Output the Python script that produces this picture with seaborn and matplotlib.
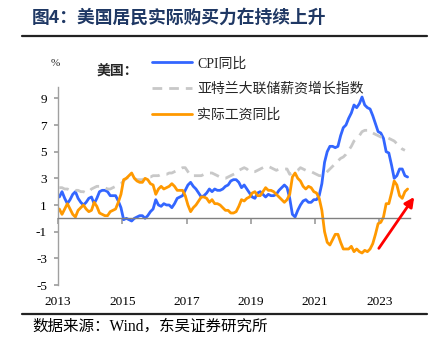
import numpy as np
import pandas as pd
import matplotlib
matplotlib.use("Agg")
import matplotlib.pyplot as plt
from matplotlib.lines import Line2D
import seaborn as sns

years = list(range(2013, 2024))
cpi = [
    1.6, 2.0, 1.5, 1.1, 1.4, 1.8, 2.0, 1.5, 1.2, 1.0, 1.2, 1.5,
    1.6, 1.1, 1.5, 2.0, 2.1, 2.1, 2.0, 1.7, 1.7, 1.7, 1.3, 0.8,
    -0.1, 0.0, -0.1, -0.2, 0.0, 0.1, 0.2, 0.2, 0.0, 0.2, 0.5, 0.7,
    1.4, 1.0, 0.9, 1.1, 1.0, 1.0, 0.8, 1.1, 1.5, 1.6, 1.7, 2.1,
    2.5, 2.7, 2.4, 2.2, 1.9, 1.6, 1.7, 1.9, 2.2, 2.0, 2.2, 2.1,
    2.1, 2.2, 2.4, 2.5, 2.8, 2.9, 2.9, 2.7, 2.3, 2.5, 2.2, 1.9,
    1.6, 1.5, 1.9, 2.0, 1.8, 1.6, 1.8, 1.7, 1.7, 1.8, 2.1, 2.3,
    2.5, 2.3, 1.5, 0.3, 0.1, 0.6, 1.0, 1.3, 1.4, 1.2, 1.2, 1.4,
    1.4, 1.7, 2.6, 4.2, 5.0, 5.4, 5.4, 5.3, 5.4, 6.2, 6.8, 7.0,
    7.5, 7.9, 8.5, 8.3, 8.6, 9.1, 8.5, 8.3, 8.2, 7.7, 7.1, 6.5,
    6.4, 6.0, 5.0, 4.9, 4.0, 3.0, 3.2, 3.7, 3.7, 3.2, 3.1,
]
wage = [
    2.3, 2.3, 2.2, 2.2, 2.1, 2.1, 2.1, 2.1, 2.0, 2.0, 1.9, 2.0,
    2.2, 2.3, 2.4, 2.4, 2.4, 2.3, 2.2, 2.2, 2.3, 2.4, 2.5, 2.6,
    2.8, 3.0, 3.1, 3.1, 3.0, 2.9, 2.9, 2.9, 3.0, 3.1, 3.1, 3.2,
    3.2, 3.2, 3.3, 3.3, 3.3, 3.4, 3.4, 3.5, 3.6, 3.7, 3.8, 3.8,
    3.5, 3.2, 3.2, 3.2, 3.2, 3.2, 3.3, 3.4, 3.4, 3.4, 3.3, 3.2,
    3.1, 3.0, 3.0, 3.1, 3.2, 3.3, 3.4, 3.6, 3.7, 3.8, 3.7, 3.5,
    3.5, 3.5, 3.6, 3.7, 3.8, 3.9, 3.9, 3.8, 3.7, 3.6, 3.7, 3.7,
    3.7, 3.7, 3.3, 3.4, 3.5, 3.6, 3.8, 3.7, 3.6, 3.6, 3.5, 3.4,
    3.3, 3.2, 3.2, 3.3, 3.5, 3.7, 3.9, 4.1, 4.3, 4.5, 4.6, 4.8,
    5.1, 5.4, 5.8, 6.0, 6.2, 6.5, 6.6, 6.6, 6.4, 6.4, 6.3, 6.2,
    6.1, 6.1, 6.1, 6.0, 5.9, 5.8, 5.6, 5.4, 5.2, 5.1, np.nan,
]
real_wage = [
    0.7, 0.3, 0.7, 1.1, 0.7, 0.3, 0.1, 0.6, 0.8, 1.0, 0.7, 0.5,
    0.6, 1.2, 0.9, 0.4, 0.3, 0.2, 0.2, 0.5, 0.6, 0.7, 1.2, 1.8,
    2.9, 3.0, 3.2, 3.4, 3.0, 2.8, 2.7, 2.7, 3.0, 2.9, 2.6, 2.5,
    1.8, 2.2, 2.4, 2.2, 2.3, 2.4, 2.6, 2.4, 2.1, 2.1, 2.1, 1.7,
    1.0, 0.5, 0.8, 1.0, 1.3, 1.6, 1.6, 1.5, 1.2, 1.4, 1.1, 1.1,
    1.0, 0.8, 0.6, 0.6, 0.4, 0.4, 0.5, 0.9, 1.4, 1.3, 1.5, 1.6,
    1.9, 2.0, 1.7, 1.7, 2.0, 2.3, 2.1, 2.1, 2.0, 1.8, 1.6, 1.4,
    1.2, 1.4, 1.8, 3.1, 3.4, 3.0, 2.8, 2.4, 2.2, 2.4, 2.3, 2.0,
    1.9, 1.5, 0.6, -1.0, -1.8, -2.0, -1.6, -1.2, -1.2, -1.8, -2.3, -2.3,
    -2.3, -2.1, -2.5, -2.3, -2.5, -2.6, -2.4, -2.5, -2.3, -1.9, -1.2, -0.4,
    -0.3, 0.1, 1.1, 1.1, 1.9, 2.8, 2.5, 1.7, 1.5, 2.0, 2.2,
]
yticks = [-5, -3, -1, 1, 3, 5, 7, 9]
xticks = [2013, 2015, 2017, 2019, 2021, 2023]
labels = ["CPI同比", "亚特兰大联储薪资增长指数", "实际工资同比"]

n = len(cpi)
t = np.array([2013 + (i + 0.5) / 12 for i in range(n)])
df = pd.DataFrame({"t": t, "cpi": cpi, "wage": wage, "real": real_wage})

sns.set_theme(style="white")
plt.rcParams["font.family"] = ["Liberation Serif", "Noto Sans CJK SC"]
plt.rcParams["axes.unicode_minus"] = False

W, H = 439, 355
fig = plt.figure(figsize=(W / 100, H / 100), dpi=100)
ax = fig.add_axes([58 / W, 1 - 285 / H, (410 - 58) / W, (285 - 87) / H])

sns.lineplot(data=df, x="t", y="cpi", ax=ax, color="#3366FF", lw=2.0, label=labels[0])
sns.lineplot(data=df.dropna(subset=["wage"]), x="t", y="wage", ax=ax, color="#C8C8C8",
             lw=2.0, label=labels[1], dashes=False)
ax.lines[-1].set_linestyle((0, (3.5, 2.5)))
sns.lineplot(data=df, x="t", y="real", ax=ax, color="#FF9900", lw=2.0, label=labels[2])

ax.set_xlim(2013, 2023.95)
ax.set_ylim(-5, 9.85)
ax.set_xticks(xticks)
ax.set_xticklabels([str(x) for x in xticks])
ax.set_yticks(yticks)
ax.set_yticklabels([str(y) for y in yticks])
ax.set_xlabel("")
ax.set_ylabel("")

for s in ["top", "right"]:
    ax.spines[s].set_visible(False)
ax.spines["bottom"].set_position(("data", 0))
ax.spines["bottom"].set_color("#808080")
ax.spines["left"].set_color("#A0A0A0")
ax.spines["bottom"].set_linewidth(1.0)
ax.spines["left"].set_linewidth(1.0)
ax.tick_params(axis="x", direction="out", length=4, color="#A0A0A0", pad=52,
               labelsize=9.5, labelcolor="black", bottom=True)
ax.tick_params(axis="y", direction="out", length=3, color="#A0A0A0", pad=5,
               labelsize=9.5, labelcolor="black", left=True)

leg = ax.legend(loc="upper left", bbox_to_anchor=(152 / W, 1 - 57 / H),
                bbox_transform=fig.transFigure, frameon=False, fontsize=10,
                handlelength=2.9, handletextpad=0.35, labelspacing=0.88,
                borderpad=0, borderaxespad=0)
for h in leg.get_lines():
    h.set_linewidth(2.0)

ax.annotate("", xy=(2024.08, 1.6), xytext=(2022.98, -2.25),
            arrowprops=dict(arrowstyle="-|>", color="#FF0000", lw=2.0,
                            mutation_scale=14, shrinkA=0, shrinkB=0),
            annotation_clip=False)

fig.text(32 / W, 1 - 18 / H, "图4：美国居民实际购买力在持续上升", fontsize=12.8,
         fontweight="bold", color="#1F3864", va="center", ha="left",
         family=["Noto Sans CJK SC"])
fig.add_artist(Line2D([22 / W, 427 / W], [1 - 36 / H] * 2, color="#222222", lw=1.6))
fig.add_artist(Line2D([22 / W, 427 / W], [1 - 314 / H] * 2, color="#222222", lw=1.6))
fig.text(32 / W, 1 - 327 / H, "数据来源：Wind，东吴证券研究所", fontsize=11.2,
         color="black", va="center", ha="left")
fig.text(97 / W, 1 - 72 / H, "美国：", fontsize=10, fontweight="bold",
         va="center", ha="left")
fig.text(55 / W, 1 - 63 / H, "%", fontsize=8, va="center", ha="center")

fig.savefig("out.png", dpi=100)
